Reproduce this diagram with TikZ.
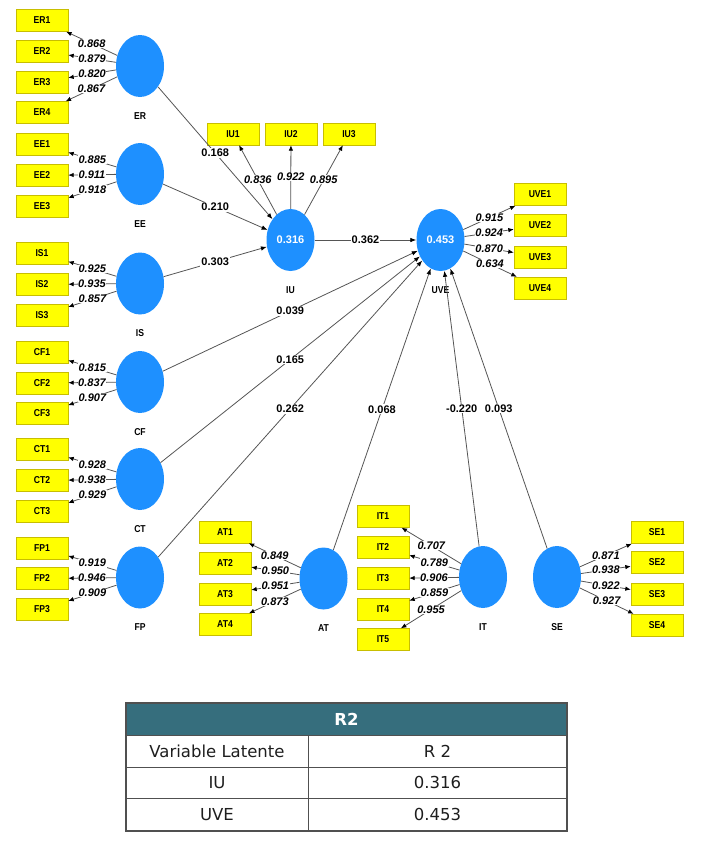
\documentclass[tikz,border=0pt]{standalone}
\usepackage{fontspec}
\setmainfont{Liberation Sans}
\newfontfamily\narrowsf[FakeStretch=0.86]{Liberation Sans}
\newfontfamily\tabfont{DejaVu Sans}
\usepackage{tikz}
\usetikzlibrary{shapes.geometric,arrows.meta}

\definecolor{lvblue}{RGB}{30,144,255}
\definecolor{mvyellow}{RGB}{255,255,0}
\definecolor{mvedge}{RGB}{200,190,0}
\definecolor{lngray}{RGB}{85,85,85}
\definecolor{tabteal}{RGB}{54,110,125}
\definecolor{tabline}{RGB}{80,80,80}

\begin{document}
\begin{tikzpicture}[x=1pt,y=-1pt,
    lvname/.style={text=black,
        inner sep=0pt,
        yshift=-15pt,
        font=\narrowsf\bfseries\fontsize{10}{12}\selectfont},
    lv/.style={ellipse,
        fill=lvblue,
        minimum width=48pt,
        minimum height=62pt,
        inner sep=0pt,
        text=white,
        font=\bfseries\fontsize{11}{13}\selectfont,
        label distance=0pt,
        label={[lvname]below:#1}},
    mv/.style={draw=mvedge,
        fill=mvyellow,
        minimum width=52pt,
        minimum height=22pt,
        inner sep=0pt,
        font=\narrowsf\bfseries\fontsize{10}{12}\selectfont},
    ld/.style={draw=lngray,
        line width=0.8pt,
        -{Latex[length=5.5pt,width=4.5pt,color=black]}},
    pth/.style={draw=lngray,
        line width=0.8pt,
        -{Latex[length=6pt,width=4.5pt,color=black]}},
    lw/.style={fill=white,
        inner sep=0.5pt,
        font=\bfseries\itshape\fontsize{11}{13}\selectfont},
    pc/.style={fill=white,
        inner sep=1pt,
        font=\bfseries\fontsize{11}{13}\selectfont},
    tabtxt/.style={text={rgb,255:red,30;green,30;blue,30},
        font=\tabfont\fontsize{16.5}{18}\selectfont}]

\useasboundingbox (0,0) rectangle (704,841);

\node [lv=ER] (ER) at (140,66) {};
\node [lv=EE] (EE) at (140,174) {};
\node [lv=IS] (IS) at (140,283.5) {};
\node [lv=CF] (CF) at (140,382) {};
\node [lv=CT] (CT) at (140,479) {};
\node [lv=FP] (FP) at (140,577.5) {};
\node [lv=AT] (AT) at (323.5,578.5) {};
\node [lv=IT] (IT) at (483,577) {};
\node [lv=SE] (SE) at (557,577) {};
\node [lv=IU] (IU) at (290.5,240) {0.316};
\node [lv=UVE] (UVE) at (440.5,240) {0.453};

\node [mv] (ER1) at (42,20.5) {ER1};
\node [mv] (ER2) at (42,51) {ER2};
\node [mv] (ER3) at (42,82) {ER3};
\node [mv] (ER4) at (42,112.5) {ER4};
\node [mv] (EE1) at (42,144.5) {EE1};
\node [mv] (EE2) at (42,175.5) {EE2};
\node [mv] (EE3) at (42,206.5) {EE3};
\node [mv] (IS1) at (42,253.5) {IS1};
\node [mv] (IS2) at (42,284.5) {IS2};
\node [mv] (IS3) at (42,315.5) {IS3};
\node [mv] (CF1) at (42,352.5) {CF1};
\node [mv] (CF2) at (42,383) {CF2};
\node [mv] (CF3) at (42,413.5) {CF3};
\node [mv] (CT1) at (42,449.5) {CT1};
\node [mv] (CT2) at (42,480.5) {CT2};
\node [mv] (CT3) at (42,511.5) {CT3};
\node [mv] (FP1) at (42,548) {FP1};
\node [mv] (FP2) at (42,578.5) {FP2};
\node [mv] (FP3) at (42,609.5) {FP3};
\node [mv] (AT1) at (225,532) {AT1};
\node [mv] (AT2) at (225,563) {AT2};
\node [mv] (AT3) at (225,594) {AT3};
\node [mv] (AT4) at (225,624.5) {AT4};
\node [mv] (IT1) at (383,516.5) {IT1};
\node [mv] (IT2) at (383,547.5) {IT2};
\node [mv] (IT3) at (383,578.5) {IT3};
\node [mv] (IT4) at (383,609) {IT4};
\node [mv] (IT5) at (383,639.5) {IT5};
\node [mv] (SE1) at (657,532.5) {SE1};
\node [mv] (SE2) at (657,562.5) {SE2};
\node [mv] (SE3) at (657,594) {SE3};
\node [mv] (SE4) at (657,625) {SE4};
\node [mv] (IU1) at (233,134) {IU1};
\node [mv] (IU2) at (291,134) {IU2};
\node [mv] (IU3) at (349,134) {IU3};
\node [mv] (UVE1) at (540,194.5) {UVE1};
\node [mv] (UVE2) at (540,225.5) {UVE2};
\node [mv] (UVE3) at (540,257) {UVE3};
\node [mv] (UVE4) at (540,288) {UVE4};

\draw [ld] (ER) -- node [lw] {0.868} (ER1);
\draw [ld] (ER) -- node [lw] {0.879} (ER2);
\draw [ld] (ER) -- node [lw] {0.820} (ER3);
\draw [ld] (ER) -- node [lw] {0.867} (ER4);
\draw [ld] (EE) -- node [lw] {0.885} (EE1);
\draw [ld] (EE) -- node [lw] {0.911} (EE2);
\draw [ld] (EE) -- node [lw] {0.918} (EE3);
\draw [ld] (IS) -- node [lw] {0.925} (IS1);
\draw [ld] (IS) -- node [lw] {0.935} (IS2);
\draw [ld] (IS) -- node [lw] {0.857} (IS3);
\draw [ld] (CF) -- node [lw] {0.815} (CF1);
\draw [ld] (CF) -- node [lw] {0.837} (CF2);
\draw [ld] (CF) -- node [lw] {0.907} (CF3);
\draw [ld] (CT) -- node [lw] {0.928} (CT1);
\draw [ld] (CT) -- node [lw] {0.938} (CT2);
\draw [ld] (CT) -- node [lw] {0.929} (CT3);
\draw [ld] (FP) -- node [lw] {0.919} (FP1);
\draw [ld] (FP) -- node [lw] {0.946} (FP2);
\draw [ld] (FP) -- node [lw] {0.909} (FP3);
\draw [ld] (AT) -- node [lw] {0.849} (AT1);
\draw [ld] (AT) -- node [lw] {0.950} (AT2);
\draw [ld] (AT) -- node [lw] {0.951} (AT3);
\draw [ld] (AT) -- node [lw] {0.873} (AT4);
\draw [ld] (IT) -- node [lw] {0.707} (IT1);
\draw [ld] (IT) -- node [lw] {0.789} (IT2);
\draw [ld] (IT) -- node [lw] {0.906} (IT3);
\draw [ld] (IT) -- node [lw] {0.859} (IT4);
\draw [ld] (IT) -- node [lw] {0.955} (IT5);
\draw [ld] (SE) -- node [lw] {0.871} (SE1);
\draw [ld] (SE) -- node [lw] {0.938} (SE2);
\draw [ld] (SE) -- node [lw] {0.922} (SE3);
\draw [ld] (SE) -- node [lw] {0.927} (SE4);
\draw [ld] (IU) -- node [lw] {0.836} (IU1);
\draw [ld] (IU) -- node [lw] {0.922} (IU2);
\draw [ld] (IU) -- node [lw] {0.895} (IU3);
\draw [ld] (UVE) -- node [lw] {0.915} (UVE1);
\draw [ld] (UVE) -- node [lw] {0.924} (UVE2);
\draw [ld] (UVE) -- node [lw] {0.870} (UVE3);
\draw [ld] (UVE) -- node [lw] {0.634} (UVE4);

\draw [pth] (ER) -- node [pc] {0.168} (IU);
\draw [pth] (EE) -- node [pc] {0.210} (IU);
\draw [pth] (IS) -- node [pc] {0.303} (IU);
\draw [pth] (IU) -- node [pc] {0.362} (UVE);
\draw [pth] (CF) -- node [pc] {0.039} (UVE);
\draw [pth] (CT) -- node [pc] {0.165} (UVE);
\draw [pth] (FP) -- node [pc] {0.262} (UVE);
\draw [pth] (AT) -- node [pc] {0.068} (UVE);
\draw [pth] (IT) -- node [pc] {-0.220} (UVE);
\draw [pth] (SE) -- node [pc] {0.093} (UVE);

\fill [tabteal] (126,703) rectangle (567,735);
\draw [tabline, line width=0.6pt] (126,735) -- (567,735)
    (126,767) -- (567,767)
    (126,798) -- (567,798)
    (308,735) -- (308,831);
\draw [tabline, line width=1.1pt] (126,703) rectangle (567,831);
\node [tabtxt, text=white, font=\tabfont\bfseries\fontsize{16.5}{18}\selectfont] (hdr) at (346.5,719) {R2};
\node [tabtxt] (c11) at (217,751) {Variable Latente};
\node [tabtxt] (c12) at (437.5,751) {R 2};
\node [tabtxt] (c21) at (217,782.5) {IU};
\node [tabtxt] (c22) at (437.5,782.5) {0.316};
\node [tabtxt] (c31) at (217,814.5) {UVE};
\node [tabtxt] (c32) at (437.5,814.5) {0.453};

\end{tikzpicture}
\end{document}
